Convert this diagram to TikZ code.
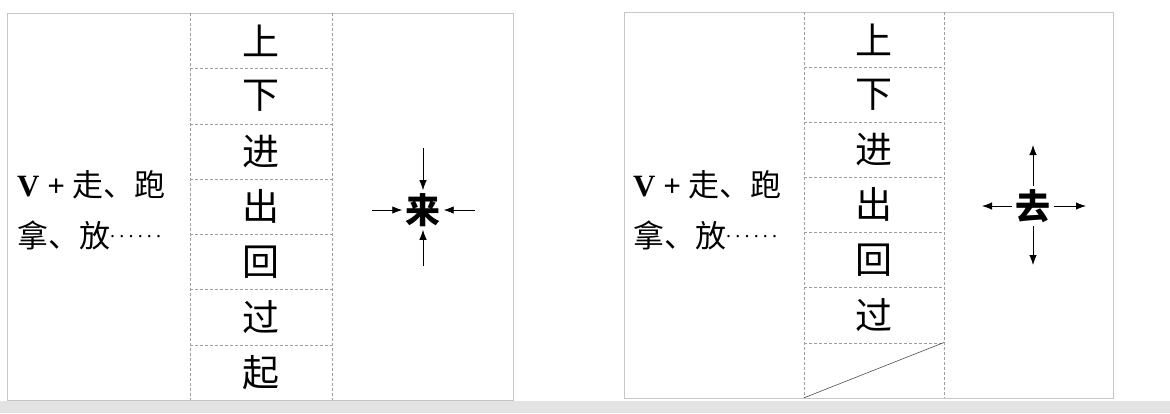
\documentclass[tikz,border=0pt]{standalone}
\usepackage{fontspec}
\setmainfont{Liberation Serif}
\newfontfamily\cjk{Noto Sans CJK SC}
\usetikzlibrary{arrows.meta}
\newcommand{\sixdots}{\raisebox{0.3em}{\fontsize{20}{22}\selectfont .\hspace{4.2pt}.\hspace{4.2pt}.\hspace{4.2pt}.\hspace{4.2pt}.\hspace{4.2pt}.}}
\begin{document}
\begin{tikzpicture}[x=1pt,y=-1pt,
  frame/.style={draw=gray!45,line width=0.6pt},
  dsh/.style={draw=gray!75,dash pattern=on 3pt off 2pt,line width=0.5pt},
  cellL/.style={minimum width=142pt,minimum height=55.3pt,inner sep=0pt,font=\cjk\fontsize{37}{39}\selectfont},
  cellR/.style={minimum width=140pt,minimum height=55.1pt,inner sep=0pt,font=\cjk\fontsize{37}{39}\selectfont},
  lbl/.style={anchor=base west,inner sep=0pt,font=\fontsize{31}{33}\selectfont},
  dirw/.style={inner sep=3pt,font=\cjk\bfseries\fontsize{35}{37}\selectfont},
  arr/.style={line width=0.8pt,-{Latex[length=10pt,width=7.5pt]}}
]
\useasboundingbox (0,0) rectangle (1170,413);
\fill[gray!22] (0,401) rectangle (1170,413);
% left panel
\draw[frame] (7,13) rectangle (513,400);
\foreach \c [count=\i from 0] in {上,下,进,出,回,过,起}
  \node[cellL] (L\i) at (261,{13+55.3*(\i+0.5)}) {\c};
\draw[dsh] (L0.north west) -- (L6.south west);
\draw[dsh] (L0.north east) -- (L6.south east);
\foreach \i in {0,...,5} \draw[dsh] (L\i.south west) -- (L\i.south east);
\node[lbl] (la) at (17,196) {\textbf{V +} {\cjk 走、跑}};
\node[lbl] (lb) at (17,247) {{\cjk 拿、放}\sixdots};
\node[dirw] (lai) at (423,210) {来};
\coordinate (laiN) at (423,148);
\coordinate (laiS) at (423,266);
\coordinate (laiW) at (372,210);
\coordinate (laiE) at (475,210);
\draw[arr] (laiN) -- (lai.north);
\draw[arr] (laiS) -- (lai.south);
\draw[arr] (laiW) -- (lai.west);
\draw[arr] (laiE) -- (lai.east);
% right panel
\draw[frame] (624,12) rectangle (1113,398);
\foreach \c [count=\i from 0] in {上,下,进,出,回,过,{}}
  \node[cellR] (R\i) at (874,{12+55.1*(\i+0.5)}) {\c};
\draw[dsh] (R0.north west) -- (R6.south west);
\draw[dsh] (R0.north east) -- (R6.south east);
\foreach \i in {0,...,5} \draw[dsh] (R\i.south west) -- (R\i.south east);
\draw[line width=0.6pt,gray!60!black] (R6.south west) -- (R6.north east);
\node[lbl] (ra) at (633,196) {\textbf{V +} {\cjk 走、跑}};
\node[lbl] (rb) at (633,247) {{\cjk 拿、放}\sixdots};
\node[dirw] (qu) at (1033,206) {去};
\coordinate (quN) at (1033,145);
\coordinate (quS) at (1033,265);
\coordinate (quW) at (982,206);
\coordinate (quE) at (1086,206);
\draw[arr] (qu.north) -- (quN);
\draw[arr] (qu.south) -- (quS);
\draw[arr] (qu.west) -- (quW);
\draw[arr] (qu.east) -- (quE);
\end{tikzpicture}
\end{document}
